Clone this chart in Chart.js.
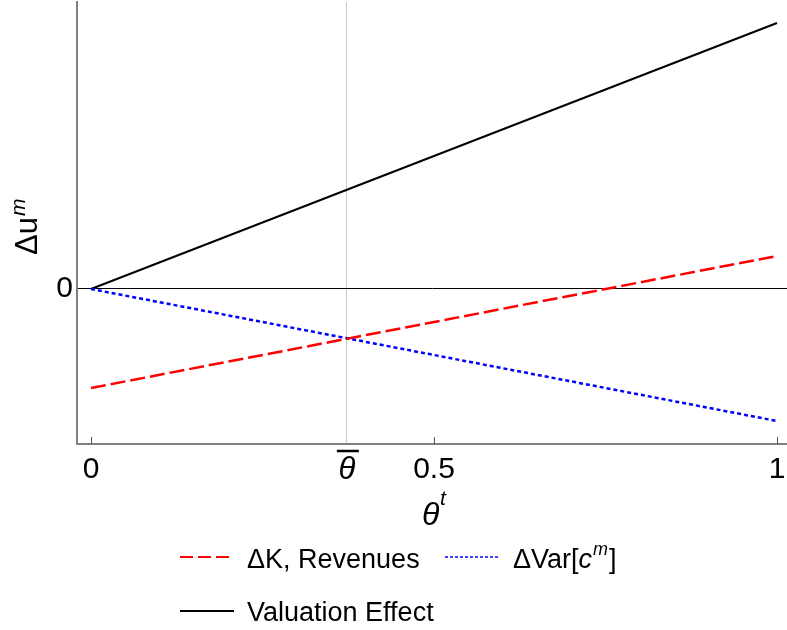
<!DOCTYPE html>
<html>
<head>
<meta charset="utf-8">
<script src="https://cdn.jsdelivr.net/npm/chart.js@4.4.1/dist/chart.umd.min.js"></script>
<style>
html,body{margin:0;padding:0;background:#fff;}
#wrap{width:787px;height:630px;position:relative;}
</style>
</head>
<body>
<div id="wrap"><canvas id="c" width="787" height="630"></canvas></div>
<script>
// ---- data ----
const thetaBar = 0.373;
const xValues = [0, 1];
const revenues = [-0.99, 0.33];
const varC = [0, -1.32];
const valuation = [0, 2.66];
const xTicks = [0, thetaBar, 0.5, 1];
const xTickLabels = ['0', 'θ', '0.5', '1'];
const yTicks = [0];
const yTickLabels = ['0'];
const seriesNames = ['ΔK, Revenues', 'ΔVar[c^m]', 'Valuation Effect'];

const FONT = "'Liberation Sans', Arial, sans-serif";
const pts = arr => xValues.map((x, i) => ({x: x, y: arr[i]}));

const extras = {
  id: 'extras',
  afterDraw(chart) {
    const ctx = chart.ctx;
    const xs = chart.scales.x;
    const axisY = chart.chartArea.bottom;
    ctx.save();
    // inward tick marks
    ctx.strokeStyle = '#555';
    ctx.lineWidth = 1;
    [0, 0.5, 1].forEach(v => {
      const px = Math.round(xs.getPixelForValue(v)) + 0.5;
      ctx.beginPath(); ctx.moveTo(px, axisY); ctx.lineTo(px, axisY - 7); ctx.stroke();
    });
    // overline on theta-bar tick
    const tb = xs.getPixelForValue(thetaBar);
    ctx.strokeStyle = '#000';
    ctx.lineWidth = 2.5;
    ctx.beginPath(); ctx.moveTo(tb - 10, 451); ctx.lineTo(tb + 12, 451); ctx.stroke();

    ctx.fillStyle = '#000';
    ctx.textBaseline = 'alphabetic';
    ctx.textAlign = 'left';
    // x title theta^t
    ctx.font = 'italic 32px ' + FONT;
    ctx.fillText('θ', 422, 525);
    ctx.font = 'italic 21px ' + FONT;
    ctx.fillText('t', 440, 505);
    // y title Δu^m (rotated)
    ctx.save();
    ctx.translate(37, 255);
    ctx.rotate(-Math.PI / 2);
    ctx.font = '31px ' + FONT;
    ctx.fillText('Δu', 0, 0);
    const w = ctx.measureText('Δu').width;
    ctx.font = 'italic 21px ' + FONT;
    ctx.fillText('m', w + 1, -12);
    ctx.restore();

    // legend
    const ds = chart.data.datasets;
    const drawSample = (d, x1, x2, y) => {
      ctx.save();
      ctx.strokeStyle = d.borderColor;
      ctx.lineWidth = d.legendWidth;
      ctx.setLineDash(d.legendDash);
      ctx.beginPath(); ctx.moveTo(x1, y); ctx.lineTo(x2, y); ctx.stroke();
      ctx.restore();
    };
    drawSample(ds[0], 180, 234, 557);
    drawSample(ds[1], 445, 498, 557);
    drawSample(ds[2], 180, 234, 611);
    ctx.fillStyle = '#000';
    ctx.font = '27px ' + FONT;
    ctx.fillText(seriesNames[0], 247, 568);
    ctx.fillText(seriesNames[2], 247, 621);
    // ΔVar[c^m]
    let x = 513;
    const parts = seriesNames[1].split(/\[|\]/);
    ctx.font = '27px ' + FONT;
    ctx.fillText(parts[0] + '[', x, 568); x += ctx.measureText(parts[0] + '[').width;
    const cm = parts[1].split('^');
    ctx.font = 'italic 27px ' + FONT;
    ctx.fillText(cm[0], x, 568); x += ctx.measureText(cm[0]).width + 1;
    ctx.font = 'italic 18px ' + FONT;
    ctx.fillText(cm[1], x, 555); x += ctx.measureText(cm[1]).width + 1;
    ctx.font = '27px ' + FONT;
    ctx.fillText(']', x, 568);
    ctx.restore();
  }
};

new Chart(document.getElementById('c'), {
  type: 'scatter',
  data: {
    datasets: [
      {label: seriesNames[0], data: pts(revenues), showLine: true, borderColor: '#ff0000', borderWidth: 2.5, borderDash: [15, 5], pointRadius: 0, legendWidth: 2, legendDash: [13, 5]},
      {label: seriesNames[1], data: pts(varC), showLine: true, borderColor: '#0000ff', borderWidth: 2.5, borderDash: [4, 3], pointRadius: 0, legendWidth: 1.5, legendDash: [3, 2]},
      {label: seriesNames[2], data: pts(valuation), showLine: true, borderColor: '#000000', borderWidth: 2, pointRadius: 0, legendWidth: 2, legendDash: []}
    ]
  },
  options: {
    responsive: false,
    animation: false,
    layout: {padding: {top: 2, right: 0, left: 0, bottom: 0}},
    plugins: {legend: {display: false}, tooltip: {enabled: false}},
    scales: {
      x: {
        type: 'linear', min: -0.0204, max: 1.0146,
        afterBuildTicks: s => { s.ticks = xTicks.map(v => ({value: v})); },
        afterFit: s => { s.height = 186; s.paddingLeft = 0; s.paddingRight = 0; },
        ticks: {
          autoSkip: false, maxRotation: 0, padding: 8, color: '#000',
          callback: (v, i) => xTickLabels[i],
          font: c => (c.index === 1 ? {family: FONT, size: 31, style: 'italic'} : {family: FONT, size: 30})
        },
        grid: {drawTicks: false, color: c => (c.tick && c.tick.value === thetaBar ? '#c8c8c8' : 'rgba(0,0,0,0)'), lineWidth: 1},
        border: {color: '#808080', width: 2}
      },
      y: {
        type: 'linear', min: -1.55, max: 2.87,
        afterBuildTicks: s => { s.ticks = yTicks.map(v => ({value: v})); },
        afterFit: s => { s.width = 77; s.paddingTop = 0; s.paddingBottom = 0; },
        ticks: {padding: 4, color: '#000', font: {family: FONT, size: 30}, callback: (v, i) => yTickLabels[i]},
        grid: {drawTicks: false, color: '#000', lineWidth: 1},
        border: {color: '#808080', width: 2}
      }
    }
  },
  plugins: [extras]
});
</script>
</body>
</html>
